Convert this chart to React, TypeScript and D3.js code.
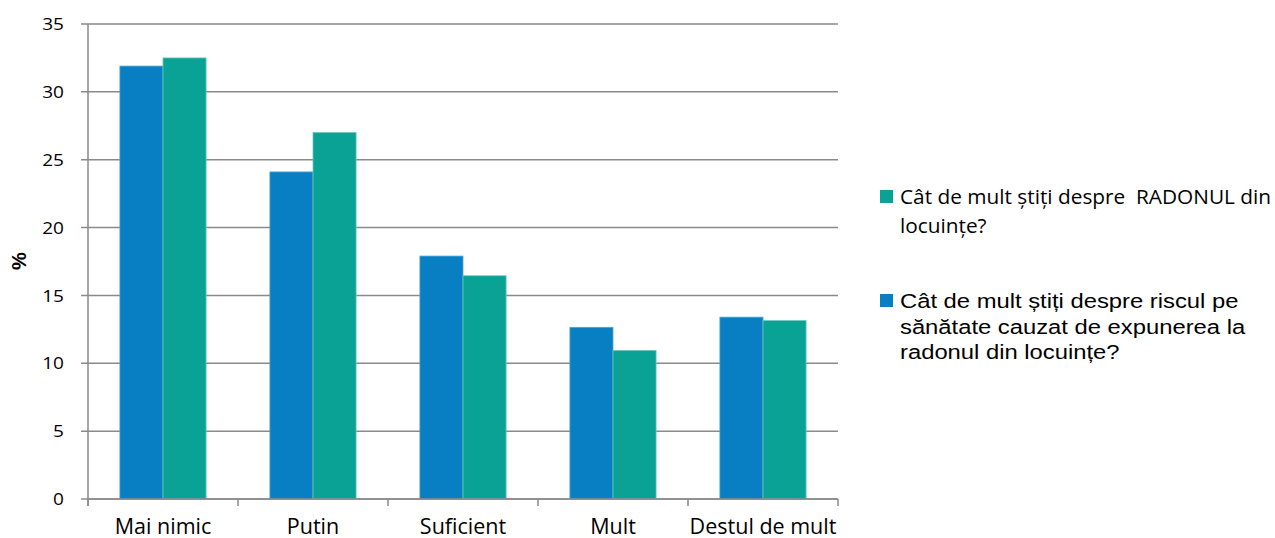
import React from "react";
import * as d3 from "d3";

const categories = ["Mai nimic", "Putin", "Suficient", "Mult", "Destul de mult"];
const seriesNames = [
  "Cât de mult știți despre riscul pe sănătate cauzat de expunerea la radonul din locuințe?",
  "Cât de mult știți despre  RADONUL din locuințe?",
];
const riskValues = [31.9, 24.1, 17.9, 12.65, 13.4];
const radonValues = [32.5, 27.0, 16.45, 10.95, 13.15];
const yTicks = [0, 5, 10, 15, 20, 25, 30, 35];

const BLUE = "#077fc2";
const GREEN = "#09a295";
const GRID = "#8a8a8a";

export default function App() {
  const width = 1275;
  const height = 538;
  const left = 88;
  const right = 838;
  const top = 24;
  const bottom = 499;

  const x = d3.scaleBand<string>().domain(categories).range([left, right]).paddingInner(0).paddingOuter(0);
  const y = d3.scaleLinear().domain([0, 35]).range([bottom, top]);
  const inner = d3.scaleBand<number>().domain([0, 1]).range([0, x.bandwidth()]).paddingInner(0).paddingOuter(0.74);

  const series = [riskValues, radonValues];
  const colors = [BLUE, GREEN];
  const strokes = ["#4fa6d8", "#6cc9c0"];
  const font = "'Open Sans', 'Noto Sans', sans-serif";
  const arial = "'Liberation Sans', Arial, sans-serif";

  // Legend 2 is wrapped over three lines
  const legend2Lines = ["Cât de mult știți despre riscul pe", "sănătate cauzat de expunerea la", "radonul din locuințe?"];

  return (
    <svg width={width} height={height} style={{ position: "absolute", left: 0, top: 0, background: "#fff" }}>
      {/* horizontal gridlines and y ticks */}
      {yTicks.map((t) => (
        <g key={t}>
          <line x1={81} x2={right} y1={y(t)} y2={y(t)} stroke={GRID} strokeWidth={1.5} />
          <text
            transform={`translate(64, ${y(t)}) scale(1.12, 1)`}
            dy="0.36em"
            textAnchor="end"
            fontFamily={font}
            fontSize={17}
            fill="#000"
          >
            {t}
          </text>
        </g>
      ))}
      {/* y axis line */}
      <line x1={left} x2={left} y1={top} y2={bottom + 7} stroke={GRID} strokeWidth={1.5} />
      {/* x category ticks */}
      {categories.map((c) => (
        <line key={c} x1={x(c)!} x2={x(c)!} y1={bottom} y2={bottom + 7} stroke={GRID} strokeWidth={1.5} />
      ))}
      <line x1={right} x2={right} y1={bottom} y2={bottom + 7} stroke={GRID} strokeWidth={1.5} />

      {/* bars */}
      {categories.map((c, i) => (
        <g key={c}>
          {series.map((vals, s) => (
            <rect
              key={s}
              x={x(c)! + inner(s)!}
              y={y(vals[i])}
              width={inner.bandwidth()}
              height={bottom - y(vals[i])}
              fill={colors[s]}
              stroke={strokes[s]}
              strokeWidth={0.8}
            />
          ))}
        </g>
      ))}
      {/* x axis baseline over bars */}
      <line x1={left} x2={right} y1={bottom} y2={bottom} stroke={GRID} strokeWidth={1.5} />

      {/* category labels */}
      {categories.map((c) => (
        <text key={c} x={x(c)! + x.bandwidth() / 2} y={534} textAnchor="middle" fontFamily={font} fontSize={21.5} fill="#000">
          {c}
        </text>
      ))}

      {/* y axis title */}
      <text
        transform={`translate(26, 261) rotate(-90)`}
        textAnchor="middle"
        fontFamily={arial}
        fontWeight="bold"
        fontSize={20}
        fill="#000"
      >
        %
      </text>

      {/* legend */}
      <rect x={880} y={190} width={13} height={13} fill={GREEN} />
      <text fontFamily={font} fontSize={20.8} fill="#000">
        <tspan x={900} y={204} style={{ whiteSpace: "pre" }}>Cât de mult știți despre  RADONUL din</tspan>
        <tspan x={900} y={233}>locuințe?</tspan>
      </text>
      <rect x={880} y={294} width={13} height={13} fill={BLUE} />
      {legend2Lines.map((line, i) => (
        <text
          key={i}
          transform={`translate(900, ${308 + i * 25.7}) scale(1.19, 1)`}
          fontFamily={arial}
          fontSize={20}
          fill="#000"
        >
          {line}
        </text>
      ))}
    </svg>
  );
}
